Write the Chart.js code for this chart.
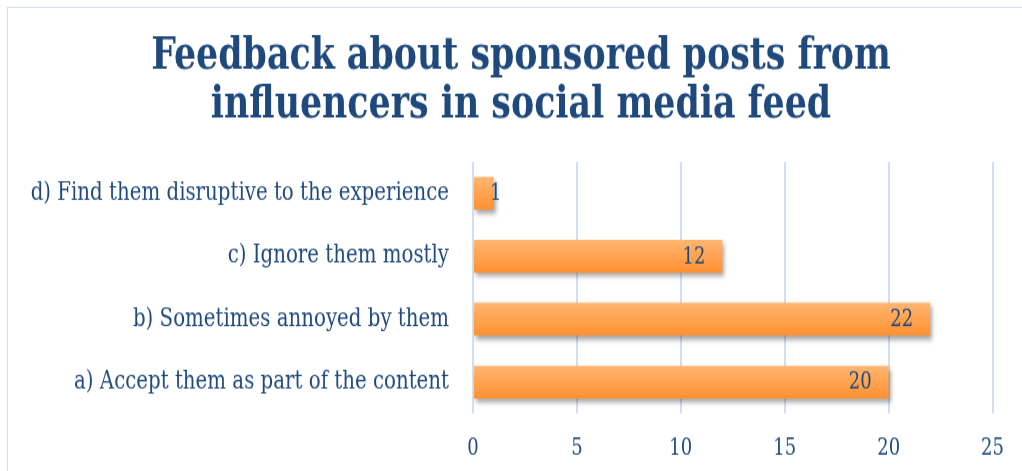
<!DOCTYPE html>
<html>
<head>
<meta charset="utf-8">
<title>Feedback about sponsored posts</title>
<script src="https://cdn.jsdelivr.net/npm/chart.js@4/dist/chart.umd.min.js"></script>
<style>
  html, body { margin: 0; padding: 0; background: #fff; overflow: hidden; }
  #wrap { position: relative; width: 1022px; height: 471px; overflow: hidden; }
  #frame {
    position: absolute; left: 7px; top: 7px; width: 1040px; height: 490px;
    border: 1px solid #d3dfee; box-sizing: border-box;
  }
  /* the chart is laid out on a shorter canvas and stretched to full height */
  canvas {
    position: absolute; left: 0; top: 0;
    transform-origin: 0 0;
    transform: scale(1, 1.2493);
  }
</style>
</head>
<body>
<div id="wrap">
  <div id="frame"></div>
  <canvas id="feedbackChart" width="1022" height="377"></canvas>
</div>
<script>
// answers, top of the chart first
const categories = [
    'd) Find them disruptive to the experience',
    'c) Ignore them mostly',
    'b) Sometimes annoyed by them',
    'a) Accept them as part of the content'
];
const responses = [1, 12, 22, 20];
const xTicks = [0, 5, 10, 15, 20, 25];

const textColor = '#1f497d';
const serif = "'DejaVu Serif', serif";
const barShare = 0.52;

// vertical orange gradient for each bar, built from the category scale
function barGradient(context) {
    const chart = context.chart;
    const yScale = chart.scales.y;
    if (!chart.chartArea || !yScale) return '#ff9b43';
    const centre = yScale.getPixelForValue(context.dataIndex);
    const half = (yScale.bottom - yScale.top) / categories.length * barShare / 2;
    if (!isFinite(centre) || !isFinite(half)) return '#ff9b43';
    const g = chart.ctx.createLinearGradient(0, centre - half, 0, centre + half);
    g.addColorStop(0, '#ffb672');
    g.addColorStop(1, '#ff9130');
    return g;
}

// soft drop shadow under the bars
const barShadow = {
    id: 'barShadow',
    beforeDatasetsDraw(chart) {
        const ctx = chart.ctx;
        ctx.save();
        ctx.shadowColor = 'rgba(0, 0, 0, 0.35)';
        ctx.shadowBlur = 4;
        ctx.shadowOffsetX = 2;
        ctx.shadowOffsetY = 3;
    },
    afterDatasetsDraw(chart) {
        chart.ctx.restore();
    }
};

// centre the title over the plot plus a share of the label column
const titleShift = {
    id: 'titleShift',
    afterLayout(chart) {
        if (chart.titleBlock) chart.titleBlock.left = 49;
    }
};

// value at the inside end of each bar
const valueLabels = {
    id: 'valueLabels',
    afterDraw(chart) {
        const ctx = chart.ctx;
        const meta = chart.getDatasetMeta(0);
        ctx.save();
        ctx.font = '18px ' + serif;
        ctx.fillStyle = textColor;
        ctx.textBaseline = 'middle';
        ctx.textAlign = 'left';
        meta.data.forEach((bar, i) => {
            const text = String(responses[i]);
            const w = ctx.measureText(text).width;
            const x = Math.max(bar.x - 17 - w, bar.base + 16);
            ctx.fillText(text, x, bar.y + 1);
        });
        ctx.restore();
    }
};

document.addEventListener('DOMContentLoaded', () => {
    const ctx = document.getElementById('feedbackChart').getContext('2d');

    const chart = new Chart(ctx, {
        type: 'bar',
        data: {
            labels: categories,
            datasets: [{
                data: responses,
                backgroundColor: barGradient,
                borderWidth: 0,
                barPercentage: 1,
                categoryPercentage: barShare
            }]
        },
        options: {
            indexAxis: 'y',
            responsive: false,
            animation: false,
            layout: {
                padding: { top: 26, right: 29, bottom: 0, left: 0 }
            },
            scales: {
                x: {
                    min: 0,
                    max: 25,
                    afterBuildTicks(scale) {
                        scale.ticks = xTicks.map(v => ({ value: v }));
                    },
                    afterFit(scale) {
                        scale.height = 46;
                    },
                    grid: {
                        color: '#d3dfee',
                        lineWidth: 2,
                        drawTicks: false
                    },
                    border: { display: false },
                    ticks: {
                        color: textColor,
                        padding: 18,
                        font: { family: serif, size: 18 }
                    }
                },
                y: {
                    afterFit(scale) {
                        scale.width = 473;
                    },
                    grid: { display: false, drawTicks: false },
                    border: { display: false },
                    ticks: {
                        color: textColor,
                        padding: 24,
                        font: { family: serif, size: 19.8 }
                    }
                }
            },
            plugins: {
                legend: { display: false },
                tooltip: { enabled: false },
                title: {
                    display: true,
                    text: ['Feedback about sponsored posts from', 'influencers in social media feed'],
                    color: textColor,
                    font: { family: serif, size: 34.8, weight: 'bold', lineHeight: 1.127 },
                    padding: { top: 0, bottom: 25 }
                }
            }
        },
        plugins: [barShadow, titleShift, valueLabels]
    });
    // second pass so the gradients see the final scale layout
    chart.update();
});
</script>
</body>
</html>
